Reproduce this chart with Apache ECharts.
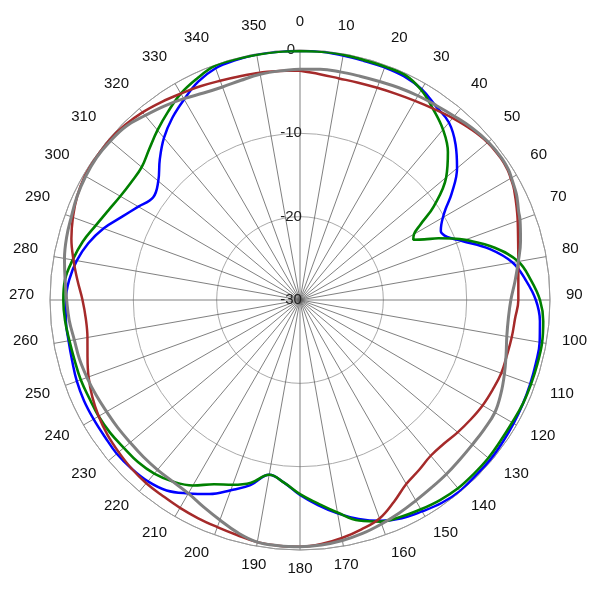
<!DOCTYPE html>
<html>
<head>
<meta charset="utf-8">
<script src="https://cdn.jsdelivr.net/npm/echarts@6/dist/echarts.min.js"></script>
<style>html,body{margin:0;padding:0;background:#fff;}#c{width:600px;height:600px;}</style>
</head>
<body>
<div id="c"></div>
<script>
const angles = [0,5,10,15,20,25,30,35,40,45,50,55,58,60,62,64,66,68,70,75,80,85,90,95,100,105,110,115,120,125,130,135,140,145,150,155,160,165,170,175,180,185,190,195,200,205,210,215,220,225,230,235,240,245,250,255,260,265,270,275,280,285,290,295,300,305,310,315,320,325,330,335,340,345,350,355,360];

const blueVals = [-0.1,-0.1,-0.2,-0.3,-0.3,-0.4,-0.8,-1.6,-2.2,-3.6,-5.4,-7.8,-9.4,-10.2,-10.8,-11.2,-11.0,-10.3,-9.3,-6.4,-4.1,-2.8,-1.7,-1.1,-0.8,-0.7,-0.6,-0.5,-0.4,-0.3,-0.2,-0.2,-0.1,-0.3,-0.7,-1.1,-1.8,-2.8,-4.0,-5.3,-6.6,-8.0,-8.7,-7.0,-5.7,-4.3,-3.2,-2.1,-1.6,-1.4,-1.3,-1.4,-1.4,-1.4,-1.5,-1.7,-1.8,-1.8,-1.9,-2.2,-2.8,-3.7,-4.9,-6.4,-7.6,-8.5,-7.8,-6.2,-4.6,-3.3,-2.2,-1.1,-0.4,-0.2,-0.1,-0.1,-0.1];

const greenVals = [-0.1,-0.1,-0.1,-0.2,-0.2,-0.2,-0.9,-2.1,-3.3,-4.9,-7.1,-10.4,-13.0,-14.2,-14.6,-13.4,-11.8,-10.3,-8.9,-5.8,-3.4,-2.2,-1.2,-0.7,-0.5,-0.5,-0.5,-0.5,-0.6,-0.6,-0.5,-0.5,-0.5,-0.7,-1.0,-1.3,-1.7,-2.6,-4.1,-5.5,-6.7,-8.0,-8.7,-7.3,-6.4,-5.6,-4.3,-3.4,-2.8,-2.5,-2.4,-2.2,-2.1,-2.1,-2.0,-2.0,-1.9,-1.7,-1.6,-1.7,-2.3,-3.0,-3.9,-4.6,-5.1,-5.3,-5.2,-4.4,-3.4,-2.4,-1.4,-0.7,-0.1,-0.1,-0.1,-0.1,-0.1];

const redVals = [-2.5,-2.8,-3.0,-3.0,-2.9,-2.7,-2.4,-2.0,-1.5,-1.0,-0.6,-0.5,-0.6,-0.8,-1.0,-1.3,-1.6,-1.9,-2.2,-2.9,-3.4,-3.7,-3.8,-4.1,-4.2,-4.3,-4.3,-4.5,-4.7,-5.0,-5.3,-5.6,-5.6,-5.1,-4.5,-3.3,-2.1,-1.5,-1.0,-0.6,-0.4,-0.4,-0.5,-0.8,-1.0,-1.1,-1.2,-1.3,-1.3,-1.4,-1.6,-1.8,-2.1,-2.5,-3.0,-3.6,-4.1,-4.2,-3.9,-3.2,-2.4,-1.6,-1.0,-0.5,-0.2,-0.1,-0.1,-0.3,-0.6,-1.0,-1.4,-1.7,-2.0,-2.2,-2.3,-2.4,-2.5];

const grayVals = [-2.3,-2.2,-2.2,-2.2,-2.1,-1.9,-1.7,-1.5,-1.2,-0.8,-0.5,-0.4,-0.5,-0.7,-0.9,-1.1,-1.4,-1.7,-1.9,-2.6,-3.4,-4.1,-4.7,-4.9,-4.8,-4.4,-3.9,-3.4,-3.0,-3.0,-3.0,-2.9,-2.7,-2.5,-2.2,-1.8,-1.4,-1.0,-0.7,-0.5,-0.4,-0.4,-0.5,-1.1,-1.9,-2.6,-3.2,-3.4,-3.4,-3.4,-3.4,-3.3,-3.2,-3.0,-2.8,-2.6,-2.5,-2.2,-2.0,-1.7,-1.3,-1.0,-0.8,-0.5,-0.3,-0.2,-0.3,-0.5,-1.1,-1.6,-2.1,-2.6,-2.8,-2.7,-2.5,-2.4,-2.3];

const radiusTicks = {min: -30, max: 0, step: 10};
const angleTicks = {min: 0, max: 360, step: 10};

function pairs(vals) { return angles.map((a, i) => [vals[i], a]); }

const chart = echarts.init(document.getElementById('c'), null, {renderer: 'canvas'});
const font = 'Liberation Sans, Arial, sans-serif';

function mk(name, vals, color, width) {
  return {
    name: name, type: 'line', coordinateSystem: 'polar', polarIndex: 0,
    data: pairs(vals), smooth: 0.4, showSymbol: false, symbol: 'none',
    lineStyle: {color: color, width: width}, itemStyle: {color: color}
  };
}

chart.setOption({
  animation: false,
  backgroundColor: '#ffffff',
  polar: [
    {center: ['50%', '50%'], radius: 250},
    {center: [300, 295], radius: 250}
  ],
  angleAxis: [
    {
      polarIndex: 0, type: 'value', min: angleTicks.min, max: angleTicks.max, interval: angleTicks.step,
      startAngle: 90, clockwise: true,
      axisLine: {show: true, lineStyle: {color: '#999', width: 1}},
      axisTick: {show: false},
      axisLabel: {show: false},
      splitLine: {show: true, lineStyle: {color: '#606060', width: 0.8}}
    },
    {
      polarIndex: 1, type: 'value', min: angleTicks.min, max: angleTicks.max, interval: angleTicks.step,
      startAngle: 90, clockwise: true,
      axisLine: {show: false}, axisTick: {show: false}, splitLine: {show: false},
      axisLabel: {show: true, margin: 16, fontSize: 15, color: '#111', fontFamily: font,
        formatter: v => (v === 360 ? '' : String(v))}
    }
  ],
  radiusAxis: [
    {
      polarIndex: 0, type: 'value', min: radiusTicks.min, max: radiusTicks.max, interval: radiusTicks.step,
      axisLine: {show: false}, axisTick: {show: false},
      axisLabel: {show: true, align: 'center', margin: 9, fontSize: 15, color: '#222', fontFamily: font},
      splitLine: {show: true, lineStyle: {color: '#aaa', width: 1}}
    },
    {polarIndex: 1, type: 'value', min: 0, max: 1, show: false}
  ],
  series: [
    mk('blue', blueVals, '#0000ff', 2.5),
    mk('green', greenVals, '#008000', 2.6),
    mk('red', redVals, '#a52a2a', 2.5),
    mk('gray', grayVals, '#808080', 3)
  ]
});
</script>
</body>
</html>
